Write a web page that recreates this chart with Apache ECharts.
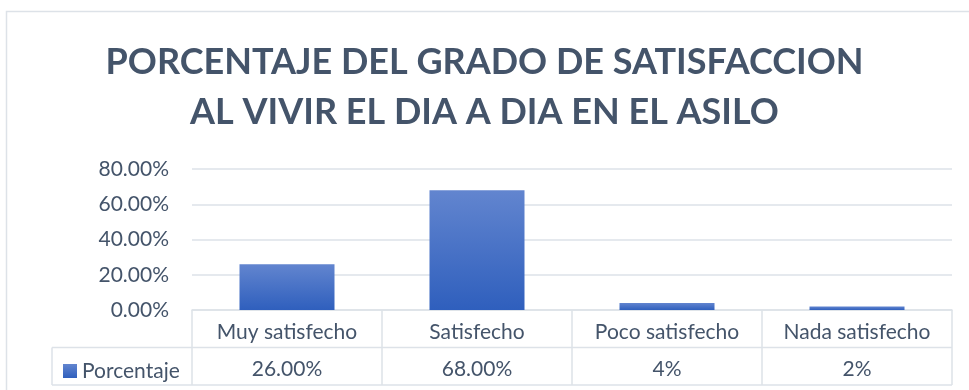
<!DOCTYPE html>
<html>
<head>
<meta charset="utf-8">
<script src="https://cdn.jsdelivr.net/npm/echarts@6/dist/echarts.min.js"></script>
<style>
  html, body { margin: 0; padding: 0; background: #ffffff; }
  #chart { width: 969px; height: 390px; }
</style>
</head>
<body>
<div id="chart"></div>
<script>
// Satisfaction survey: share of residents per satisfaction level
const categories = ['Muy satisfecho', 'Satisfecho', 'Poco satisfecho', 'Nada satisfecho'];
const values = [26, 68, 4, 2];
const tableLabels = ['26.00%', '68.00%', '4%', '2%'];
const seriesName = 'Porcentaje';
const yTicks = [0, 20, 40, 60, 80];

const TEXT = '#44546A';
const LINE = '#dde2e8';
const FONT = 'Lato, "Open Sans", sans-serif';
const LABEL_SIZE = 21;

// plot area geometry (pixels)
const gridLeft = 192, gridRight = 17, gridTop = 169, plotBottom = 310;
const rowH = 37.5;
const legendCellLeft = 52;
const W = 969, H = 390;

const chart = echarts.init(document.getElementById('chart'), null, { renderer: 'canvas' });

const row1 = plotBottom + rowH;
const row2 = plotBottom + 2 * rowH;
const right = W - gridRight;

const tableLines = [
  // legend cell
  { type: 'line', shape: { x1: legendCellLeft, y1: row1, x2: gridLeft, y2: row1 } },
  { type: 'line', shape: { x1: legendCellLeft, y1: row2, x2: right, y2: row2 } },
  { type: 'line', shape: { x1: legendCellLeft, y1: row1, x2: legendCellLeft, y2: row2 } },
  // row separator under category names
  { type: 'line', shape: { x1: gridLeft, y1: row1, x2: right, y2: row1 } }
].map(l => Object.assign(l, { silent: true, style: { stroke: LINE, lineWidth: 1.5 } }));

chart.setOption({
  animation: false,
  backgroundColor: '#ffffff',
  textStyle: { fontFamily: FONT },
  title: {
    text: 'PORCENTAJE DEL GRADO DE SATISFACCION\nAL VIVIR EL DIA A DIA EN EL ASILO',
    left: 'center',
    top: 32,
    textStyle: {
      color: TEXT, fontFamily: FONT, fontWeight: 'bold', fontSize: 36, lineHeight: 50
    }
  },
  legend: {
    data: [seriesName],
    left: legendCellLeft + 6,
    top: row1 + 8,
    icon: 'rect',
    itemWidth: 14,
    itemHeight: 14,
    itemGap: 6,
    textStyle: { color: TEXT, fontSize: LABEL_SIZE, fontFamily: FONT }
  },
  grid: {
    left: gridLeft, right: gridRight, top: gridTop, bottom: H - plotBottom,
    containLabel: false
  },
  xAxis: {
    type: 'category',
    data: categories,
    boundaryGap: true,
    axisLine: { show: true, lineStyle: { color: LINE, width: 1.5 } },
    axisTick: { show: true, length: 2 * rowH, alignWithLabel: false, lineStyle: { color: LINE, width: 1.5 } },
    axisLabel: {
      interval: 0,
      margin: 3,
      formatter: (v, i) => '{c|' + v + '}\n{v|' + tableLabels[i] + '}',
      rich: {
        c: { color: TEXT, fontSize: LABEL_SIZE, fontFamily: FONT, lineHeight: rowH, height: rowH, verticalAlign: 'middle' },
        v: { color: TEXT, fontSize: LABEL_SIZE, fontFamily: FONT, lineHeight: rowH, height: rowH, verticalAlign: 'middle' }
      }
    }
  },
  yAxis: {
    type: 'value',
    min: yTicks[0],
    max: yTicks[yTicks.length - 1],
    interval: yTicks[1] - yTicks[0],
    axisLine: { show: false },
    axisTick: { show: false },
    splitLine: { lineStyle: { color: LINE, width: 1.5 } },
    axisLabel: {
      color: TEXT, fontSize: LABEL_SIZE, fontFamily: FONT, margin: 23,
      formatter: v => v.toFixed(2) + '%'
    }
  },
  series: [{
    name: seriesName,
    type: 'bar',
    data: values,
    barWidth: '50%',
    itemStyle: {
      color: new echarts.graphic.LinearGradient(0, 0, 0, 1, [
        { offset: 0, color: '#6285cf' },
        { offset: 1, color: '#2f5fbd' }
      ])
    }
  }],
  graphic: [
    {
      type: 'rect', silent: true,
      shape: { x: 6.5, y: 11.5, width: W, height: H },
      style: { fill: 'none', stroke: LINE, lineWidth: 1.5 }
    }
  ].concat(tableLines)
});
</script>
</body>
</html>
